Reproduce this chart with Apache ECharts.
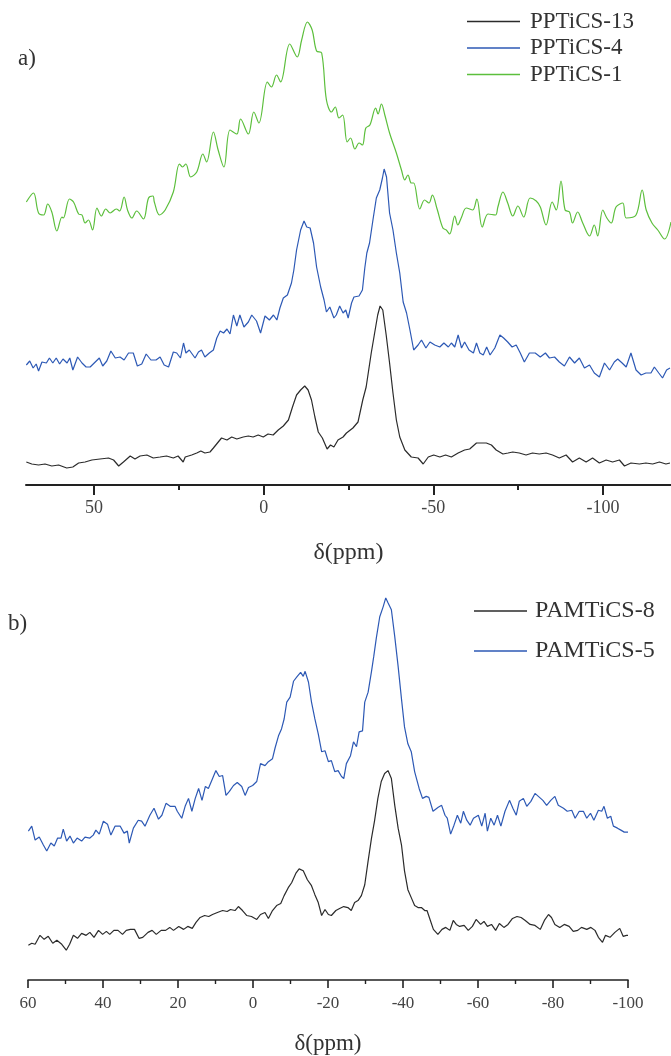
<!DOCTYPE html>
<html>
<head>
<meta charset="utf-8">
<script src="https://cdn.jsdelivr.net/npm/echarts@6/dist/echarts.min.js"></script>
<style>
html,body{margin:0;padding:0;background:#fff;}
#chart{width:671px;height:1056px;}
</style>
</head>
<body>
<div id="chart"></div>
<script>
// ---------- Panel a ----------
const aTickValues = [50, 0, -50, -100];
const aMinorTickValues = [25, -25, -75];

// PPTiCS-13 (black)
const ppm13 = [69.9,68.3,66.3,64.4,62.4,60.4,58.0,56.2,54.5,52.6,50.6,48.2,45.7,44.2,42.7,41.3,39.3,37.9,36.4,34.4,32.5,30.5,28.6,26.6,25.2,23.7,23.1,21.2,19.7,18.5,17.3,15.8,14.8,13.6,12.4,10.8,9.4,7.9,6.0,4.5,3.1,1.6,0.1,-1.3,-2.8,-4.3,-5.8,-7.3,-8.5,-9.7,-10.9,-12.1,-13.1,-14.1,-15.1,-16.1,-17.3,-18.7,-19.7,-20.7,-21.9,-23.4,-24.4,-26.3,-27.8,-29.2,-30.2,-31.7,-32.6,-33.6,-34.3,-35.1,-36.1,-37.1,-38.1,-39.1,-40.1,-41.6,-43.5,-45.5,-47.0,-48.5,-50.1,-51.9,-53.6,-55.3,-57.3,-59.2,-60.7,-62.7,-64.4,-65.6,-67.1,-68.5,-70.5,-72.0,-73.4,-75.3,-77.3,-79.2,-81.2,-83.2,-85.1,-87.1,-89.1,-91.0,-93.0,-95.0,-96.9,-98.9,-100.9,-102.8,-104.8,-106.3,-108.2,-110.7,-112.6,-114.6,-116.6,-118.5,-119.7];
const int13 = [23,21,20,21,19,20,17,18,22,23,25,26,27,25,19,23,29,26,29,30,27,28,29,27,29,23,28,30,32,34,32,33,37,42,47,45,48,46,48,49,48,50,48,51,50,55,59,65,78,90,95,99,95,85,68,53,47,36,40,38,45,48,52,57,63,85,98,132,150,170,179,175,150,122,92,65,48,35,28,27,21,28,30,28,30,28,32,35,36,42,42,42,40,35,31,32,33,32,30,32,31,32,30,27,30,23,27,23,27,22,25,23,25,19,22,21,22,21,23,21,22];

// PPTiCS-4 (blue)
const ppm4 = [69.9,68.9,67.9,67.0,66.3,65.3,64.0,63.1,62.1,61.1,60.1,59.1,57.9,57.1,56.2,54.8,53.5,52.3,51.1,49.9,48.4,47.4,46.2,45.0,43.7,42.3,41.1,39.8,38.4,37.2,35.9,34.6,33.2,31.7,30.5,29.3,28.0,26.6,25.6,24.5,23.6,22.9,21.9,20.2,19.2,18.3,17.3,16.0,14.8,13.8,12.8,11.8,10.8,9.9,8.9,7.9,7.0,5.8,4.5,3.5,2.1,0.9,-0.4,-1.7,-2.9,-3.9,-4.8,-5.8,-7.0,-8.2,-8.9,-9.7,-10.9,-11.9,-12.7,-13.7,-14.7,-15.6,-16.8,-17.8,-18.5,-19.5,-20.7,-21.4,-22.4,-23.4,-24.2,-24.9,-25.9,-26.6,-28.1,-29.1,-29.8,-30.4,-31.2,-32.2,-33.2,-34.2,-35.0,-35.5,-36.2,-37.1,-38.1,-39.1,-40.1,-41.1,-42.1,-43.1,-44.2,-45.5,-46.5,-47.8,-49.0,-50.4,-51.9,-53.1,-54.4,-55.3,-56.3,-57.3,-58.3,-59.2,-60.5,-61.8,-62.7,-63.7,-64.7,-65.7,-66.7,-68.1,-69.6,-70.7,-71.9,-73.2,-74.4,-75.6,-76.8,-78.3,-80.0,-81.5,-83.0,-84.2,-85.7,-87.1,-88.6,-90.1,-91.6,-93.0,-94.5,-96.0,-97.4,-98.9,-100.4,-101.9,-103.3,-104.3,-105.6,-106.8,-108.2,-109.7,-111.2,-112.6,-114.1,-115.1,-116.4,-117.5,-118.7,-119.7];
const int4 = [120,124,117,121,114,123,122,127,122,127,121,126,122,127,115,128,122,118,118,122,127,119,124,134,127,128,125,132,132,119,121,131,125,125,128,120,118,133,132,127,142,132,135,127,133,135,128,132,135,147,154,152,156,151,170,159,170,158,163,170,164,152,169,165,170,165,177,187,190,202,215,235,255,264,258,257,242,218,198,185,173,178,167,170,179,172,175,167,182,188,189,195,217,232,242,265,287,295,307,316,308,272,255,232,212,183,172,155,135,140,145,137,143,140,138,142,138,142,138,150,137,143,135,132,142,132,130,138,130,137,150,147,143,138,140,132,123,132,132,128,132,127,128,123,119,128,122,127,117,120,112,108,122,115,123,126,122,118,132,115,110,112,112,118,112,107,115,117];

// PPTiCS-1 (green)
const ppm1 = [69.9,67.8,66.3,64.8,63.6,62.4,60.9,59.4,59.0,57.2,56.0,54.5,53.5,52.6,51.6,50.4,49.1,47.8,46.5,45.2,43.4,42.4,41.1,40.1,38.8,37.4,35.4,33.9,32.6,32.2,30.7,29.0,26.6,24.8,23.9,22.9,21.5,19.7,17.9,16.8,14.8,13.4,11.7,9.9,7.9,6.8,4.5,2.9,1.4,-1.1,-2.3,-3.8,-5.0,-7.7,-9.9,-11.2,-12.9,-14.3,-15.6,-17.1,-18.5,-20.0,-21.1,-22.2,-23.3,-24.6,-25.6,-26.9,-28.1,-29.1,-30.1,-31.3,-33.0,-33.7,-34.7,-35.7,-37.1,-39.1,-40.6,-41.6,-42.5,-43.5,-44.2,-46.0,-47.4,-48.7,-49.7,-51.1,-52.8,-53.8,-54.8,-56.3,-57.2,-58.2,-59.7,-61.6,-62.8,-64.4,-66.1,-68.3,-69.0,-70.5,-71.9,-73.4,-74.9,-76.6,-78.5,-80.3,-81.5,-83.2,-85.0,-86.2,-87.6,-88.8,-90.1,-91.0,-92.5,-94.0,-96.0,-97.4,-98.4,-99.9,-101.1,-102.4,-103.8,-105.8,-106.8,-109.7,-111.5,-112.7,-114.4,-116.1,-118.1,-120];
const int1 = [283,292,272,270,281,273,254,268,267,286,283,271,270,262,265,255,277,269,276,272,276,274,288,275,267,274,266,287,289,283,270,275,293,321,318,321,308,313,331,323,353,335,318,355,351,366,351,373,362,403,398,410,403,441,428,445,463,455,434,432,385,373,378,367,370,343,347,336,342,340,357,360,377,371,381,370,352,332,315,305,310,302,302,276,285,282,290,276,257,255,251,269,260,267,277,275,286,258,271,270,278,293,282,269,279,268,287,284,278,260,283,275,304,275,273,262,273,262,249,260,249,275,267,262,278,282,267,270,295,275,262,255,246,263];

// ---------- Panel b ----------
// PAMTiCS-8 (black)
const ppm8 = [59.9,59.0,58.1,56.8,55.7,54.6,53.4,52.3,51.0,49.8,48.9,47.9,46.8,45.7,44.5,43.5,42.4,41.2,40.1,39.1,38.2,37.1,36.0,34.8,33.8,32.7,31.6,30.4,29.4,28.0,26.9,25.8,24.5,23.3,22.2,21.2,19.8,18.5,17.4,16.2,15.2,14.1,12.9,11.8,10.8,9.5,8.1,6.9,6.0,4.8,3.9,2.8,1.7,0.4,-1.0,-2.0,-3.2,-4.1,-5.2,-6.3,-7.4,-8.3,-9.4,-10.3,-11.5,-12.3,-13.4,-14.5,-15.6,-16.5,-17.4,-18.3,-19.2,-20.1,-20.9,-22.1,-23.1,-24.2,-25.3,-26.2,-27.1,-28.0,-28.9,-29.8,-30.7,-31.6,-32.4,-33.3,-34.2,-35.1,-36.0,-36.9,-37.8,-38.7,-39.6,-40.4,-41.3,-42.2,-43.1,-44.0,-44.9,-45.8,-46.4,-47.3,-48.1,-49.3,-50.4,-51.4,-52.5,-53.4,-54.2,-55.1,-56.3,-57.4,-58.5,-59.5,-60.7,-61.6,-62.5,-63.6,-64.7,-65.7,-66.9,-68.0,-69.2,-70.4,-71.5,-72.6,-73.9,-75.2,-76.6,-77.7,-78.8,-79.6,-80.5,-81.8,-83.0,-84.3,-85.4,-86.6,-87.6,-89.0,-90.1,-91.2,-92.1,-93.2,-94.0,-95.2,-96.5,-97.8,-98.7,-99.6,-100.0];
const int8 = [35,37,36,45,41,44,37,40,36,30,36,45,42,47,45,48,43,50,46,49,46,50,50,46,50,51,51,42,43,48,50,46,50,50,53,50,54,51,54,52,58,63,65,64,66,68,70,69,71,70,74,70,65,64,61,66,68,62,70,75,77,85,93,98,108,112,110,101,95,86,78,65,71,66,65,70,72,74,73,70,78,80,85,96,120,143,160,183,200,208,211,203,176,153,136,110,91,83,75,73,73,70,70,60,51,46,51,53,50,60,56,54,55,50,54,61,56,59,54,56,50,57,53,56,62,64,63,60,56,55,51,60,66,63,56,53,56,54,49,50,53,51,53,50,43,38,45,43,48,52,44,45,45];

// PAMTiCS-5 (blue)
const ppm5 = [59.9,59.0,58.1,57.0,55.9,55.0,53.9,53.0,52.1,51.2,50.6,49.7,48.8,47.9,46.9,45.7,44.8,43.5,42.6,41.9,41.0,39.9,38.8,37.9,36.8,35.4,34.4,33.5,33.0,31.9,30.6,29.7,28.8,27.5,26.4,25.2,24.3,23.2,22.1,20.8,20.2,19.0,18.1,17.2,16.3,15.4,14.5,13.6,12.7,11.9,11.0,9.9,9.0,8.1,7.2,6.3,5.2,4.2,3.0,2.1,1.2,0.1,-1.0,-2.0,-3.2,-4.1,-5.2,-5.9,-6.8,-7.6,-8.3,-9.0,-9.9,-10.8,-11.8,-12.7,-13.4,-13.9,-14.8,-15.6,-16.5,-17.4,-18.3,-19.2,-20.1,-20.9,-21.8,-22.7,-23.6,-24.2,-24.9,-26.0,-26.8,-27.6,-28.3,-29.2,-29.8,-30.7,-31.6,-32.2,-32.9,-33.8,-34.7,-35.4,-36.0,-36.9,-37.8,-38.7,-39.6,-40.4,-41.3,-42.2,-43.1,-44.3,-45.2,-46.2,-46.9,-48.0,-49.4,-50.3,-51.2,-51.8,-52.7,-53.6,-54.5,-55.4,-56.1,-57.0,-57.9,-58.8,-60.1,-61.0,-61.9,-62.5,-63.4,-64.3,-65.2,-66.1,-67.2,-68.4,-69.3,-70.2,-71.0,-72.1,-73.0,-74.1,-75.2,-76.1,-77.3,-78.3,-79.4,-80.5,-81.4,-82.8,-83.8,-85.0,-85.9,-87.0,-88.1,-89.0,-90.0,-90.9,-92.1,-93.0,-93.6,-94.5,-95.4,-96.1,-97.2,-98.1,-99.0,-100.0];
const int5 = [150,155,141,144,136,130,138,135,143,143,152,140,145,138,143,140,144,143,146,151,147,160,157,146,155,155,148,150,138,153,161,160,155,166,173,162,166,178,175,175,170,163,175,183,170,183,193,181,195,193,201,211,205,206,186,190,196,199,195,186,194,196,200,218,216,220,223,234,246,253,263,280,285,301,306,310,306,311,300,280,263,248,230,231,220,221,210,211,205,203,218,226,240,235,250,251,280,290,311,326,345,366,376,385,380,373,346,316,283,255,238,230,210,193,183,185,184,170,174,176,166,163,147,156,166,158,170,161,156,163,166,155,168,150,163,156,166,155,170,181,173,166,180,183,175,180,188,185,181,176,181,185,176,173,170,171,163,170,170,163,168,161,171,170,175,163,165,155,153,151,149,149];

function zip(xs, ys){
  const n = Math.min(xs.length, ys.length);
  const out = [];
  for (let i = 0; i < n; i++) out.push([xs[i], ys[i]]);
  return out;
}

const SERIF = "'Liberation Serif', 'DejaVu Serif', serif";
const AXIS_COLOR = '#222';
const BLACK = '#2b2b2b', BLUE = '#2d59b5', GREEN = '#5cbf3c';

const chart = echarts.init(document.getElementById('chart'), null, {renderer: 'canvas'});

function line(name, xi, yi, data, color, smooth){
  return {
    name: name, type: 'line', xAxisIndex: xi, yAxisIndex: yi,
    data: data, symbol: 'none', showSymbol: false, smooth: smooth || false,
    lineStyle: {color: color, width: 1.2}, itemStyle: {color: color},
    emphasis: {disabled: true}, silent: true
  };
}

const legendText = {fontFamily: SERIF, fontSize: 23, color: '#333', lineHeight: 20};

const option = {
  animation: false,
  backgroundColor: '#fff',
  title: [
    {text: 'a)', left: 18, top: 47, padding: 0, textStyle: {fontFamily: SERIF, fontSize: 23, fontWeight: 'normal', color: '#333'}},
    {text: 'b)', left: 8, top: 612, padding: 0, textStyle: {fontFamily: SERIF, fontSize: 23, fontWeight: 'normal', color: '#333'}}
  ],
  legend: [
    {
      data: ['PPTiCS-13', 'PPTiCS-4', 'PPTiCS-1'],
      orient: 'vertical', left: 467, top: 10, padding: 0,
      icon: 'rect', itemWidth: 53, itemHeight: 1.4, itemGap: 3.5,
      textStyle: Object.assign({}, legendText, {padding: [0, 0, 0, 5]}),
      selectedMode: false
    },
    {
      data: ['PAMTiCS-8', 'PAMTiCS-5'],
      orient: 'vertical', left: 474, top: 599, padding: 0,
      icon: 'rect', itemWidth: 53, itemHeight: 1.4, itemGap: 16,
      textStyle: Object.assign({}, legendText, {fontSize: 24, padding: [0, 0, 0, 3]}),
      selectedMode: false
    }
  ],
  grid: [
    {left: 26, top: 0, width: 645, height: 485},
    {left: 28, top: 583, width: 600, height: 400}
  ],
  xAxis: [
    {
      gridIndex: 0, type: 'value', min: -120, max: 70, inverse: true,
      axisLine: {show: true, lineStyle: {color: AXIS_COLOR, width: 2}},
      axisTick: {show: true, customValues: aTickValues, length: 10, lineStyle: {color: AXIS_COLOR, width: 2}},
      axisLabel: {show: true, customValues: aTickValues, margin: 14, fontFamily: SERIF, fontSize: 18, color: '#444'},
      splitLine: {show: false},
      name: 'δ(ppm)', nameLocation: 'middle', nameGap: 56,
      nameTextStyle: {fontFamily: SERIF, fontSize: 24, color: '#333'}
    },
    {
      gridIndex: 0, type: 'value', min: -120, max: 70, inverse: true, position: 'bottom',
      axisLine: {show: false},
      axisTick: {show: true, customValues: aMinorTickValues, length: 5, lineStyle: {color: AXIS_COLOR, width: 2}},
      axisLabel: {show: false},
      splitLine: {show: false}
    },
    {
      gridIndex: 1, type: 'value', min: -100, max: 60, interval: 20, inverse: true,
      axisLine: {show: true, lineStyle: {color: AXIS_COLOR, width: 1.6}},
      axisTick: {show: true, length: 8, lineStyle: {color: AXIS_COLOR, width: 1.6}},
      minorTick: {show: true, splitNumber: 2, length: 4, lineStyle: {color: AXIS_COLOR, width: 1.4}},
      axisLabel: {show: true, margin: 15, fontFamily: SERIF, fontSize: 17, color: '#444'},
      splitLine: {show: false},
      name: 'δ(ppm)', nameLocation: 'middle', nameGap: 52,
      nameTextStyle: {fontFamily: SERIF, fontSize: 23, color: '#333'}
    }
  ],
  yAxis: [
    {gridIndex: 0, type: 'value', min: 0, max: 485, show: false},
    {gridIndex: 1, type: 'value', min: 0, max: 400, show: false}
  ],
  series: [
    line('PPTiCS-13', 0, 0, zip(ppm13, int13), BLACK),
    line('PPTiCS-4', 0, 0, zip(ppm4, int4), BLUE),
    line('PPTiCS-1', 0, 0, zip(ppm1, int1), GREEN, 0.35),
    line('PAMTiCS-8', 2, 1, zip(ppm8, int8), BLACK),
    line('PAMTiCS-5', 2, 1, zip(ppm5, int5), BLUE)
  ]
};
chart.setOption(option);
</script>
</body>
</html>
